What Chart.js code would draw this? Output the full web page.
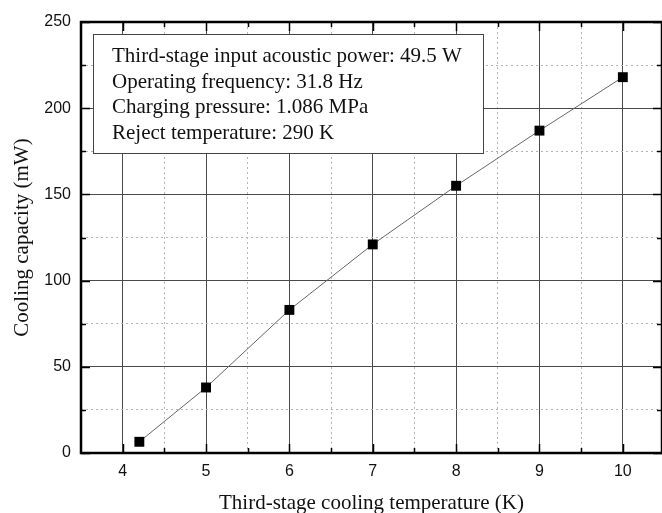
<!DOCTYPE html>
<html>
<head>
<meta charset="utf-8">
<script src="https://cdn.jsdelivr.net/npm/chart.js@4"></script>
<style>
  body { margin: 0; background: #fff; }
  canvas { display: block; }
</style>
</head>
<body>
<canvas id="chart" width="662" height="513"></canvas>
<script>
// Third-stage cooling temperature (K) vs cooling capacity (mW)
const temps = [4.2, 5, 6, 7, 8, 9, 10];
const capacity = [6.5, 38, 83, 121, 155, 187, 218];

// major + minor ticks
const xTicks = [4, 4.5, 5, 5.5, 6, 6.5, 7, 7.5, 8, 8.5, 9, 9.5, 10];
const yTicks = [0, 25, 50, 75, 100, 125, 150, 175, 200, 225, 250];

const infoLines = [
  'Third-stage input acoustic power: 49.5 W',
  'Operating frequency: 31.8 Hz',
  'Charging pressure: 1.086 MPa',
  'Reject temperature: 290 K'
];

const isMajorX = v => v % 1 === 0;
const isMajorY = v => v % 50 === 0;

// caixa de texto com as condições de operação
const infoBox = {
  id: 'infoBox',
  afterDatasetsDraw(chart) {
    const { ctx, chartArea } = chart;
    const x = chartArea.left + 12, y = chartArea.top + 12;
    ctx.save();
    ctx.fillStyle = '#fff';
    ctx.strokeStyle = '#444';
    ctx.lineWidth = 1;
    ctx.fillRect(x, y, 390, 119);
    ctx.strokeRect(x + 0.5, y + 0.5, 390, 119);
    ctx.fillStyle = '#111';
    ctx.font = '21px "Liberation Serif"';
    ctx.textBaseline = 'alphabetic';
    infoLines.forEach((line, i) => {
      ctx.fillText(line, x + 19, y + 28 + i * 25.5);
    });
    ctx.restore();
  }
};

// moldura e marcas para dentro nos quatro lados
const frame = {
  id: 'frame',
  afterDraw(chart) {
    const { ctx, chartArea: a, scales } = chart;
    ctx.save();
    ctx.strokeStyle = '#000';
    ctx.lineWidth = 1.5;
    ctx.beginPath();
    xTicks.forEach(v => {
      const px = Math.round(scales.x.getPixelForValue(v)) + 0.5;
      const len = isMajorX(v) ? 9 : 5;
      ctx.moveTo(px, a.bottom); ctx.lineTo(px, a.bottom - len);
      ctx.moveTo(px, a.top); ctx.lineTo(px, a.top + len);
    });
    yTicks.forEach(v => {
      const py = Math.round(scales.y.getPixelForValue(v)) + 0.5;
      const len = isMajorY(v) ? 9 : 5;
      ctx.moveTo(a.left, py); ctx.lineTo(a.left + len, py);
      ctx.moveTo(a.right, py); ctx.lineTo(a.right - len, py);
    });
    ctx.stroke();
    ctx.lineWidth = 2.5;
    ctx.strokeRect(a.left, a.top, a.right - a.left, a.bottom - a.top);
    ctx.restore();
  }
};

new Chart(document.getElementById('chart'), {
  type: 'scatter',
  data: {
    datasets: [{
      data: temps.map((t, i) => ({ x: t, y: capacity[i] })),
      showLine: true,
      borderColor: '#666',
      borderWidth: 1,
      pointStyle: 'rect',
      pointRadius: 7,
      pointBackgroundColor: '#000',
      pointBorderWidth: 0,
      tension: 0
    }]
  },
  options: {
    responsive: false,
    animation: false,
    devicePixelRatio: 1,
    layout: { autoPadding: false, padding: { top: 22, right: 0, left: 0, bottom: 0 } },
    plugins: {
      legend: { display: false },
      tooltip: { enabled: false }
    },
    scales: {
      x: {
        type: 'linear',
        min: 3.5,
        max: 10.47,
        afterBuildTicks: s => { s.ticks = xTicks.map(v => ({ value: v })); },
        afterFit: s => { s.height = 60; s.paddingLeft = 0; s.paddingRight = 0; },
        ticks: {
          autoSkip: false,
          maxRotation: 0,
          padding: 9,
          color: '#111',
          font: { family: 'Liberation Sans', size: 16 },
          callback: v => isMajorX(v) ? String(v) : ''
        },
        grid: {
          drawTicks: false,
          color: c => isMajorX(c.tick.value) ? '#4a4a4a' : '#b5b5b5',
          lineWidth: 1
        },
        border: {
          display: false,
          dash: c => (c.tick && !isMajorX(c.tick.value)) ? [2, 3] : []
        },
        title: {
          display: true,
          text: 'Third-stage cooling temperature (K)',
          color: '#111',
          font: { family: 'Liberation Serif', size: 21 },
          padding: { top: 0, bottom: -3 }
        }
      },
      y: {
        min: 0,
        max: 250,
        afterBuildTicks: s => { s.ticks = yTicks.map(v => ({ value: v })); },
        afterFit: s => { s.width = 81; },
        ticks: {
          autoSkip: false,
          padding: 10,
          color: '#111',
          font: { family: 'Liberation Sans', size: 16 },
          callback: v => isMajorY(v) ? String(v) : ''
        },
        grid: {
          drawTicks: false,
          color: c => isMajorY(c.tick.value) ? '#4a4a4a' : '#b5b5b5',
          lineWidth: 1
        },
        border: {
          display: false,
          dash: c => (c.tick && !isMajorY(c.tick.value)) ? [2, 3] : []
        },
        title: {
          display: true,
          text: 'Cooling capacity (mW)',
          color: '#111',
          font: { family: 'Liberation Serif', size: 21 },
          padding: { top: 10, bottom: 0 }
        }
      }
    }
  },
  plugins: [infoBox, frame]
});
</script>
</body>
</html>
